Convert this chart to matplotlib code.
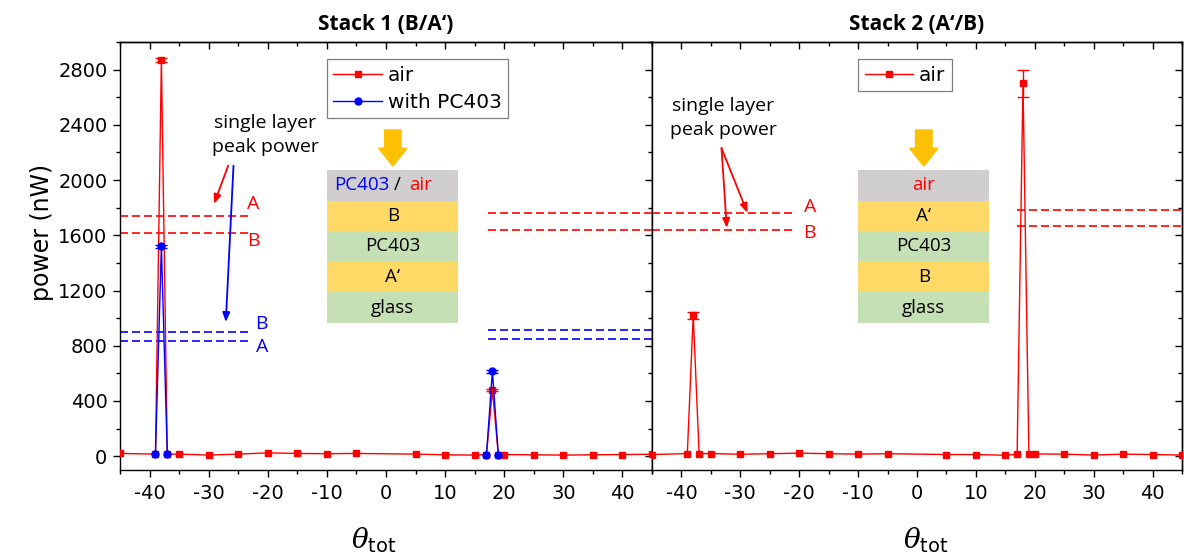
import numpy as np
import matplotlib
matplotlib.use("Agg")
import matplotlib.pyplot as plt
from matplotlib.patches import Rectangle
from matplotlib.lines import Line2D
from matplotlib.ticker import MultipleLocator
from matplotlib.transforms import offset_copy

plt.rcParams["axes.unicode_minus"] = False
plt.rcParams["font.family"] = "DejaVu Sans"
plt.rcParams["mathtext.fontset"] = "dejavuserif"

# ---- data -------------------------------------------------------------
# Stack 1 (B/A'), measured in air
s1_air_theta = [-45, -39, -38, -37, -35, -30, -25, -20, -15, -10, -5, 5,
                10, 15, 17, 18, 19, 20, 25, 30, 35, 40, 45]
s1_air_power = [20, 15, 2870, 15, 15, 8, 15, 24, 20, 18, 20, 15,
                10, 8, 12, 480, 12, 12, 10, 8, 10, 12, 14]
s1_air_err = [0, 0, 12, 0, 0, 0, 0, 0, 0, 0, 0, 0,
              0, 0, 0, 10, 0, 0, 0, 0, 0, 0, 0]

# Stack 1 (B/A'), covered with PC403 (two peak scans)
s1_pc_theta = [-39, -38, -37, np.nan, 17, 18, 19]
s1_pc_power = [15, 1520, 15, np.nan, 12, 615, 12]
s1_pc_err = [0, 12, 0, 0, 0, 10, 0]

# Stack 2 (A'/B), measured in air
s2_air_theta = [-45, -39, -38, -37, -35, -30, -25, -20, -15, -10, -5, 5,
                10, 15, 17, 18, 19, 20, 25, 30, 35, 40, 45]
s2_air_power = [12, 19, 1020, 19, 19, 14, 18, 22, 18, 15, 18, 12,
                12, 7, 14, 2700, 19, 16, 15, 8, 15, 12, 8]
s2_air_err = [0, 0, 25, 0, 0, 0, 0, 0, 0, 0, 0, 0,
              0, 0, 0, 100, 0, 0, 0, 0, 0, 0, 0]

# single layer peak power reference levels: (level, x start, x end)
s1_air_ref_A = [(1740, -45, -23), (1760, 17.3, 45)]
s1_air_ref_B = [(1617, -45, -23), (1639, 17.3, 45)]
s1_pc_ref_B = [(901, -45, -23), (914, 17.3, 45)]
s1_pc_ref_A = [(836, -45, -23), (848, 17.3, 45)]
s2_air_ref_A = [(1762, -45, -20.7), (1784, 17, 45)]
s2_air_ref_B = [(1636, -45, -20.7), (1668, 17, 45)]

layers_1 = ["B", "PC403", "A\u2018", "glass"]
layers_2 = ["A\u2018", "PC403", "B", "glass"]

RED = "#ff0000"
BLUE = "#0000ff"
GRAY = "#d0cece"
YELLOW = "#ffd966"
GREEN = "#c5e0b4"
ORANGE = "#ffc000"
CAL = "Open Sans"

fig = plt.figure(figsize=(11.84, 5.58), dpi=100)
W, H = 1184, 558
ax1 = fig.add_axes([120 / W, 88 / H, 532 / W, 428 / H])
ax2 = fig.add_axes([652 / W, 88 / H, 530 / W, 428 / H])


def series(ax, x, y, err, color, marker, ms, z):
    x = np.asarray(x, float)
    y = np.asarray(y, float)
    err = np.asarray(err, float)
    ax.plot(x, y, color=color, lw=1.0, marker=marker, ms=ms, mec=color,
            mfc=color, zorder=z)
    m = err > 0
    ax.errorbar(x[m], y[m], yerr=err[m], fmt="none", ecolor=color,
                elinewidth=1.0, capsize=4.5, capthick=1.0, zorder=z)


def refs(ax, levels, color):
    for y, x0, x1 in levels:
        ax.hlines(y, x0, x1, colors=color, lw=1.2,
                  linestyles=(0, (4.8, 2.4)), zorder=2)


def style(ax, left_labels):
    ax.set_xlim(-45, 45)
    ax.set_ylim(-100, 3000)
    for s in ax.spines.values():
        s.set_linewidth(1.0)
    ax.xaxis.set_major_locator(MultipleLocator(10))
    ax.xaxis.set_minor_locator(MultipleLocator(5))
    ax.yaxis.set_major_locator(MultipleLocator(400))
    ax.yaxis.set_minor_locator(MultipleLocator(200))
    ax.tick_params(axis="x", which="major", direction="out", length=5,
                   width=1.0, labelsize=14, pad=5)
    ax.tick_params(axis="x", which="minor", direction="out", length=2.8,
                   width=1.0)
    ax.tick_params(axis="y", which="major", direction="out", length=5,
                   width=1.0, labelsize=14, pad=4, left=left_labels,
                   labelleft=left_labels)
    ax.tick_params(axis="y", which="minor", direction="out", length=2.8,
                   width=1.0, left=left_labels)
    top = ax.secondary_xaxis("top")
    top.xaxis.set_major_locator(MultipleLocator(10))
    top.xaxis.set_minor_locator(MultipleLocator(5))
    top.tick_params(which="major", direction="in", length=5, width=1.0,
                    labeltop=False)
    top.tick_params(which="minor", direction="in", length=2.8, width=1.0)
    top.spines["top"].set_linewidth(1.0)
    right = ax.secondary_yaxis("right")
    right.yaxis.set_major_locator(MultipleLocator(400))
    right.yaxis.set_minor_locator(MultipleLocator(200))
    right.tick_params(which="major", direction="in", length=5, width=1.0,
                      labelright=False)
    right.tick_params(which="minor", direction="in", length=2.8, width=1.0)
    right.spines["right"].set_linewidth(1.0)


def stack(ax, x0, w, layers, top_parts):
    top = 0.7009
    rh = 0.07148
    fs = 13.5
    colors = [GRAY, YELLOW, GREEN, YELLOW, GREEN]
    for i, c in enumerate(colors):
        ax.add_patch(Rectangle((x0, top - (i + 1) * rh), w, rh,
                               transform=ax.transAxes, facecolor=c,
                               edgecolor="none", zorder=5))
    xc = x0 + w / 2
    for i, name in enumerate(layers):
        ax.text(xc, top - (i + 1.5) * rh, name, transform=ax.transAxes,
                ha="center", va="center", fontsize=fs, family=CAL, zorder=6)
    yc = top - 0.5 * rh
    if len(top_parts) == 1:
        t, c = top_parts[0]
        ax.text(xc, yc, t, transform=ax.transAxes, ha="center", va="center",
                fontsize=fs, family=CAL, color=c, zorder=6)
    else:
        base = offset_copy(ax.transAxes, fig=fig, x=3.5, y=0, units="points")
        ax.text(xc, yc, "/", transform=base, ha="center", va="center",
                fontsize=fs, family=CAL, color="black", zorder=6)
        tl = offset_copy(ax.transAxes, fig=fig, x=-2.5, y=0, units="points")
        ax.text(xc, yc, top_parts[0][0], transform=tl, ha="right",
                va="center", fontsize=fs, family=CAL, color=top_parts[0][1],
                zorder=6)
        tr = offset_copy(ax.transAxes, fig=fig, x=12, y=0, units="points")
        ax.text(xc, yc, top_parts[1][0], transform=tr, ha="left",
                va="center", fontsize=fs, family=CAL, color=top_parts[1][1],
                zorder=6)
    ax.annotate("", xy=(xc, 0.7103), xytext=(xc, 0.7944),
                xycoords="axes fraction", textcoords="axes fraction",
                arrowprops=dict(arrowstyle="simple,head_length=0.75,"
                                "head_width=1.2,tail_width=0.7",
                                color=ORANGE, shrinkA=0, shrinkB=0,
                                mutation_scale=17), zorder=6)


def arrow(ax, start, end, color):
    ax.annotate("", xy=end, xytext=start,
                arrowprops=dict(arrowstyle="-|>,head_length=0.55,head_width=0.22",
                                color=color, lw=1.3, shrinkA=0, shrinkB=0),
                zorder=4)


def legend(ax, handles, labels):
    leg = ax.legend(handles, labels, loc="upper left",
                    bbox_to_anchor=(0.389, 0.96), fontsize=14.5,
                    frameon=True, fancybox=False, edgecolor="#7f7f7f",
                    framealpha=1, borderpad=0.32, labelspacing=0.42,
                    handlelength=2.4, handletextpad=0.3, borderaxespad=0)
    leg.get_frame().set_linewidth(0.9)


# ---- Stack 1 ----------------------------------------------------------
series(ax1, s1_air_theta, s1_air_power, s1_air_err, RED, "s", 5, 3)
series(ax1, s1_pc_theta, s1_pc_power, s1_pc_err, BLUE, "o", 5, 3.5)
refs(ax1, s1_air_ref_A + s1_air_ref_B, RED)
refs(ax1, s1_pc_ref_A + s1_pc_ref_B, BLUE)
style(ax1, True)
ax1.text(0.2726, 0.783, "single layer\npeak power", transform=ax1.transAxes,
         ha="center", va="center", fontsize=14, family=CAL,
         linespacing=1.4)
arrow(ax1, (-26.7, 2104), (-29.1, 1828), RED)
arrow(ax1, (-25.8, 2104), (-27.1, 972), BLUE)
for lbl, (x, y), c in [("A", (-22.5, 1828), RED), ("B", (-22.5, 1560), RED),
                       ("B", (-21, 957), BLUE), ("A", (-21, 790), BLUE)]:
    ax1.text(x, y, lbl, ha="center", va="center", fontsize=14,
             family=CAL, color=c)
stack(ax1, 0.3897, 0.2462, layers_1, [("PC403", BLUE), ("air", RED)])
legend(ax1, [Line2D([], [], color=RED, lw=1.0, marker="s", ms=5),
             Line2D([], [], color=BLUE, lw=1.0, marker="o", ms=5)],
       ["air", "with PC403"])
ax1.set_title("Stack 1 (B/A\u2018)", fontsize=15, fontweight="bold",
              family=CAL, pad=9)
ax1.text(-0.147, 0.556, "power (nW)", transform=ax1.transAxes, rotation=90,
         ha="center", va="center", fontsize=17)
ax1.text(0.476, -0.164, r"$\theta_\mathsf{tot}$", transform=ax1.transAxes,
         ha="center", va="center", fontsize=20)

# ---- Stack 2 ----------------------------------------------------------
series(ax2, s2_air_theta, s2_air_power, s2_air_err, RED, "s", 5, 3)
refs(ax2, s2_air_ref_A + s2_air_ref_B, RED)
style(ax2, False)
ax2.text(0.134, 0.822, "single layer\npeak power", transform=ax2.transAxes,
         ha="center", va="center", fontsize=14, family=CAL,
         linespacing=1.4)
arrow(ax2, (-33.2, 2232), (-28.8, 1763), RED)
arrow(ax2, (-33.2, 2232), (-32.3, 1654), RED)
for lbl, (x, y) in [("A", (-18.2, 1806)), ("B", (-18.2, 1618))]:
    ax2.text(x, y, lbl, ha="center", va="center", fontsize=14,
             family=CAL, color=RED)
stack(ax2, 0.3892, 0.2472, layers_2, [("air", RED)])
legend(ax2, [Line2D([], [], color=RED, lw=1.0, marker="s", ms=5)], ["air"])
ax2.set_title("Stack 2 (A\u2018/B)", fontsize=15, fontweight="bold",
              family=CAL, pad=9)
ax2.text(0.517, -0.164, r"$\theta_\mathsf{tot}$", transform=ax2.transAxes,
         ha="center", va="center", fontsize=20)

fig.savefig("out.png", dpi=100)
